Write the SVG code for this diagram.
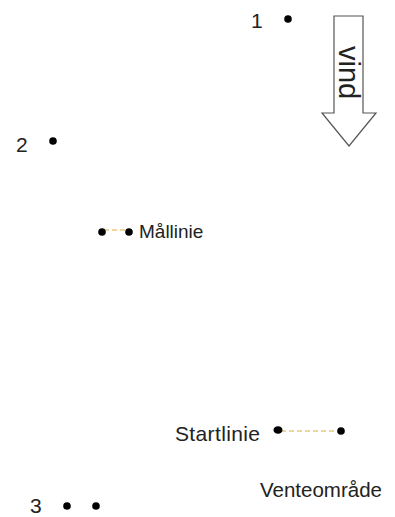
<svg xmlns="http://www.w3.org/2000/svg" width="395" height="517" viewBox="0 0 395 517">
<style>
  .t { font-family: "Liberation Sans", Arial, sans-serif; fill: #222; }
  .dot { fill: #000; }
  .dash { stroke: #dfae3c; stroke-width: 1.2; stroke-dasharray: 5 3; fill: none; }
  .arrow { fill: #fff; stroke: #555; stroke-width: 1.2; }
</style>
<rect width="395" height="517" fill="#fff"/>
<g id="connectors">
  <line class="dash" x1="104" y1="230" x2="127" y2="230"/>
  <line class="dash" x1="281" y1="431" x2="338" y2="431"/>
</g>
<g id="mark1">
  <text class="t" x="251" y="28" font-size="21">1</text>
  <circle class="dot" cx="288" cy="19" r="3.8"/>
</g>
<g id="wind">
  <polygon class="arrow" points="334,16 363,16 363,113 376,113 349,146 322,113 334,113"/>
  <text class="t" font-size="29" transform="translate(339,46) rotate(90)">vind</text>
</g>
<g id="mark2">
  <text class="t" x="16" y="152" font-size="21">2</text>
  <circle class="dot" cx="53" cy="141" r="3.8"/>
</g>
<g id="maallinie">
  <circle class="dot" cx="102" cy="232" r="3.8"/>
  <circle class="dot" cx="129" cy="232" r="3.8"/>
  <text class="t" x="139" y="238" font-size="19">Mållinie</text>
</g>
<g id="startlinie">
  <text class="t" x="175" y="441" font-size="21" textLength="85">Startlinie</text>
  <ellipse class="dot" cx="278" cy="430" rx="4.5" ry="3.8"/>
  <circle class="dot" cx="341" cy="431" r="3.8"/>
</g>
<g id="venteomraade">
  <text class="t" x="260" y="497" font-size="20.5">Venteområde</text>
</g>
<g id="mark3">
  <text class="t" x="30" y="513" font-size="21">3</text>
  <circle class="dot" cx="67" cy="506" r="3.8"/>
  <circle class="dot" cx="96" cy="506" r="3.8"/>
</g>
</svg>
